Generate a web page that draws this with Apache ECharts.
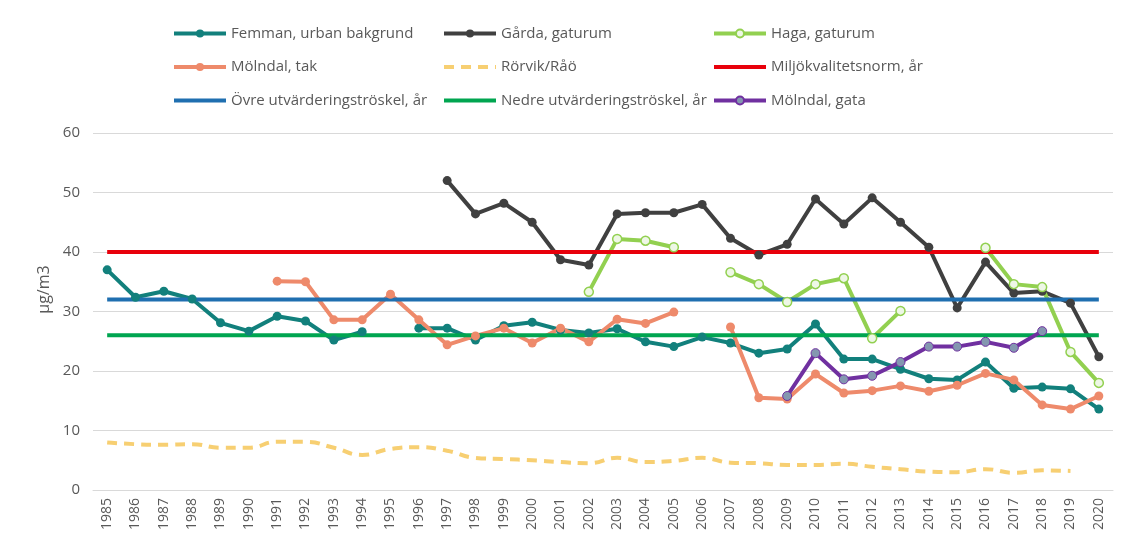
<!DOCTYPE html>
<html>
<head>
<meta charset="utf-8">
<script src="https://cdn.jsdelivr.net/npm/echarts@6/dist/echarts.min.js"></script>
<style>
  html, body { margin: 0; padding: 0; background: #fff; }
  #chart { width: 1121px; height: 542px; }
</style>
</head>
<body>
<div id="chart"></div>
<script>
// år
const years = ['1985','1986','1987','1988','1989','1990','1991','1992','1993','1994','1995','1996',
  '1997','1998','1999','2000','2001','2002','2003','2004','2005','2006','2007','2008','2009','2010',
  '2011','2012','2013','2014','2015','2016','2017','2018','2019','2020']

// mätserier (µg/m3), null = ingen mätning
const femman = [37.0, 32.4, 33.4, 32.1, 28.1, 26.7, 29.2, 28.4, 25.2, 26.6, null, 27.2,
  27.2, 25.2, 27.6, 28.2, 26.9, 26.4, 27.1, 24.9, 24.1, 25.7, 24.7, 23.0, 23.7, 27.9,
  22.0, 22.0, 20.3, 18.7, 18.5, 21.5, 17.1, 17.3, 17.0, 13.6]
const garda = [null, null, null, null, null, null, null, null, null, null, null, null,
  52.0, 46.4, 48.2, 45.0, 38.7, 37.8, 46.4, 46.6, 46.6, 48.0, 42.3, 39.5, 41.3, 48.9,
  44.7, 49.1, 45.0, 40.8, 30.6, 38.3, 33.1, 33.4, 31.4, 22.4]
const haga = [null, null, null, null, null, null, null, null, null, null, null, null,
  null, null, null, null, null, 33.3, 42.2, 41.9, 40.8, null, 36.6, 34.6, 31.6, 34.6,
  35.6, 25.5, 30.1, null, null, 40.7, 34.6, 34.1, 23.2, 18.0]
const molndalTak = [null, null, null, null, null, null, 35.1, 35.0, 28.6, 28.6, 32.9, 28.6,
  24.4, 25.9, 27.2, 24.7, 27.2, 24.9, 28.7, 28.0, 29.9, null, 27.4, 15.5, 15.3, 19.5,
  16.3, 16.7, 17.5, 16.6, 17.6, 19.6, 18.5, 14.3, 13.6, 15.8]
const rorvik = [8.0, 7.7, 7.6, 7.7, 7.1, 7.1, 8.1, 8.1, 7.1, 5.9, 6.9, 7.2,
  6.6, 5.4, 5.2, 5.0, 4.7, 4.5, 5.4, 4.7, 4.9, 5.4, 4.6, 4.5, 4.2, 4.2,
  4.4, 3.9, 3.5, 3.1, 3.0, 3.5, 2.9, 3.3, 3.2, null]
const molndalGata = [null, null, null, null, null, null, null, null, null, null, null, null,
  null, null, null, null, null, null, null, null, null, null, null, null, 15.8, 23.0,
  18.6, 19.2, 21.5, 24.1, 24.1, 24.9, 23.9, 26.7, null, null]

// gränsvärden
const miljonorm = 40
const ovreTroskel = 32
const nedreTroskel = 26

const yTicks = [0, 10, 20, 30, 40, 50, 60]

const textColor = '#595959'
const font = 'Open Sans'

const chart = echarts.init(document.getElementById('chart'), null, { renderer: 'canvas' })

// linje med markörer
function markerLine(name, data, color, marker, extra) {
  return Object.assign({
    name: name,
    type: 'line',
    data: data,
    symbol: 'circle',
    symbolSize: 9,
    lineStyle: { color: color, width: 4 },
    itemStyle: marker || { color: color },
    emphasis: { disabled: true },
    animation: false
  }, extra || {})
}

// konstant linje
function flatLine(name, value, color) {
  return {
    name: name,
    type: 'line',
    data: years.map(() => value),
    symbol: 'none',
    lineStyle: { color: color, width: 4 },
    itemStyle: { color: color },
    emphasis: { disabled: true },
    animation: false
  }
}

// legendpost utan markör
const noMarker = name => ({ name: name, itemStyle: { opacity: 0 } })

const legendBase = {
  orient: 'vertical',
  top: 26,
  padding: 0,
  itemWidth: 52,
  itemHeight: 10,
  itemGap: 18.5,
  selectedMode: false,
  lineStyle: { width: 4 },
  textStyle: { color: textColor, fontSize: 15, fontFamily: font }
}

chart.setOption({
  backgroundColor: '#fff',
  animation: false,
  legend: [
    Object.assign({}, legendBase, { left: 172, data: ['Femman, urban bakgrund', 'Mölndal, tak', noMarker('Övre utvärderingströskel, år')] }),
    Object.assign({}, legendBase, { left: 442, data: ['Gårda, gaturum', noMarker('Rörvik/Råö'), noMarker('Nedre utvärderingströskel, år')] }),
    Object.assign({}, legendBase, { left: 712, data: ['Haga, gaturum', noMarker('Miljökvalitetsnorm, år'), 'Mölndal, gata'] })
  ],
  grid: { left: 93, right: 8, top: 133, bottom: 52, containLabel: false },
  xAxis: {
    type: 'category',
    data: years,
    boundaryGap: true,
    axisLine: { show: true, lineStyle: { color: '#d9d9d9' } },
    axisTick: { show: false },
    axisLabel: { rotate: 90, color: textColor, fontSize: 14, fontFamily: font, interval: 0, margin: 8 }
  },
  yAxis: {
    type: 'value',
    min: yTicks[0],
    max: yTicks[yTicks.length - 1],
    interval: 10,
    name: 'µg/m3',
    nameLocation: 'middle',
    nameGap: 40,
    nameTextStyle: { color: textColor, fontSize: 16, fontFamily: font, padding: [0, 0, 0, 44] },
    axisLine: { show: false },
    axisTick: { show: false },
    axisLabel: { color: textColor, fontSize: 15, fontFamily: font, margin: 13 },
    splitLine: { lineStyle: { color: '#d9d9d9' } }
  },
  series: [
    markerLine('Femman, urban bakgrund', femman, '#12807c'),
    markerLine('Gårda, gaturum', garda, '#404040'),
    markerLine('Haga, gaturum', haga, '#92d050', { color: '#eef7e6', borderColor: '#92d050', borderWidth: 1.5 }),
    markerLine('Mölndal, tak', molndalTak, '#ee8a6b'),
    {
      name: 'Rörvik/Råö',
      type: 'line',
      data: rorvik,
      smooth: true,
      symbol: 'none',
      lineStyle: { color: '#f7cf72', width: 4, type: [10, 7] },
      itemStyle: { color: '#f7cf72' },
      emphasis: { disabled: true },
      animation: false
    },
    flatLine('Miljökvalitetsnorm, år', miljonorm, '#e8000b'),
    flatLine('Övre utvärderingströskel, år', ovreTroskel, '#1f6fb0'),
    flatLine('Nedre utvärderingströskel, år', nedreTroskel, '#00a550'),
    markerLine('Mölndal, gata', molndalGata, '#7030a0', { color: '#8497b0', borderColor: '#7030a0', borderWidth: 1 })
  ]
})
</script>
</body>
</html>
